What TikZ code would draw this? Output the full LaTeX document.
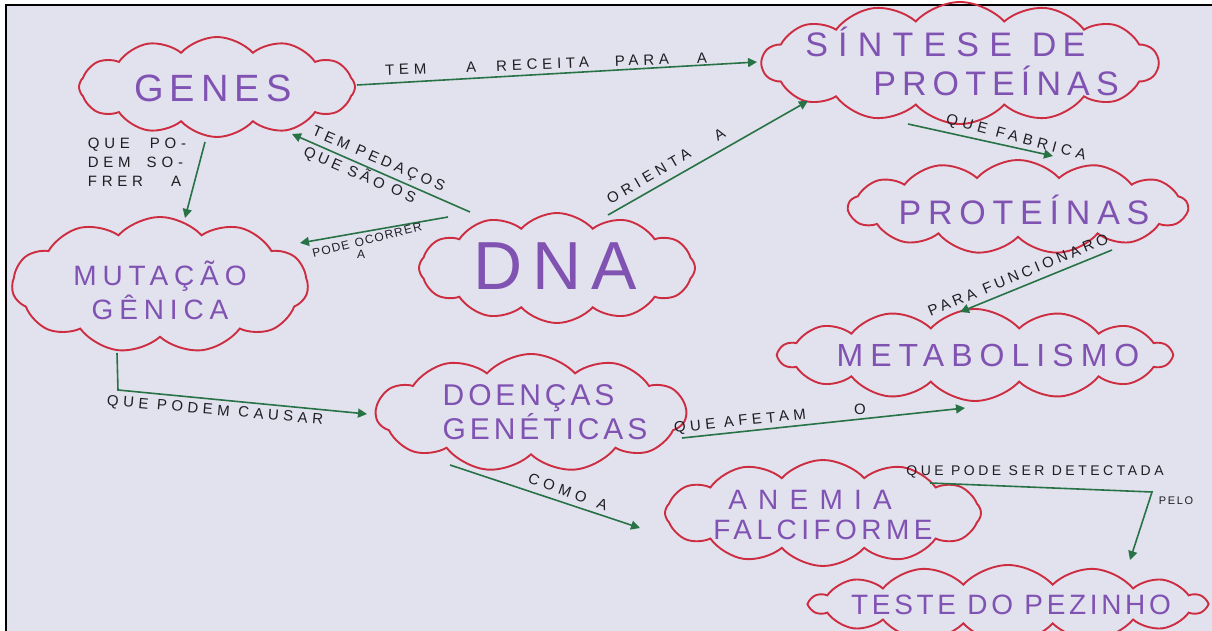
\documentclass[tikz,border=0pt]{standalone}
\usepackage{fontspec}
\usetikzlibrary{shapes.symbols,arrows.meta}
\newfontfamily\handfont{Liberation Sans}
\newcommand\cloudfont[3]{\handfont\fontsize{#1}{#2}\selectfont\addfontfeature{LetterSpace=#3}}
\definecolor{paper}{RGB}{226,225,238}
\definecolor{cloudred}{RGB}{205,45,65}
\definecolor{inkpurple}{RGB}{128,82,178}
\definecolor{inkgreen}{RGB}{40,115,70}
\definecolor{inkblack}{RGB}{30,30,35}
\tikzset{
  cloudnode/.style={cloud, draw=cloudred, line width=1.9pt, cloud puffs=#1, cloud puff arc=95,
    cloud ignores aspect, inner sep=0pt},
  cloudnode/.default=12,
  cloudtext/.style={text=inkpurple, align=center, inner sep=0pt, font=\cloudfont{30}{35}{18}},
  conn/.style={draw=inkgreen, line width=1.6pt, -{Triangle[length=9pt,width=9pt]}},
  lbl/.style={text=inkblack, font=\cloudfont{15}{19}{32}, inner sep=0pt, align=left}
}
\begin{document}
\begin{tikzpicture}[x=1pt,y=-1pt]
\useasboundingbox (0,0) rectangle (1212,631);
\fill[white] (0,0) rectangle (1212,631);
\fill[paper] (6,5) rectangle (1212,631);
\draw[black, line width=2pt] (6,631) -- (6,5) -- (1212,5);

% clouds
\node[cloudnode=12, minimum width=276pt, minimum height=100pt,
  label={[cloudtext, font=\cloudfont{38}{40}{16}, yshift=-1pt, xshift=-4pt]center:GENES}] (genes) at (217,87) {};
\node[cloudnode=14, minimum width=396pt, minimum height=122pt,
  label={[cloudtext, align=left, font=\cloudfont{34}{39}{18}, xshift=2pt, yshift=2pt]center:{{\addfontfeature{LetterSpace=30}SÍNTESE}\hspace{20pt}DE\\\hspace{68pt}PROTEÍNAS}}] (sintese) at (960,63) {};
\node[cloudnode=13, minimum width=339pt, minimum height=94pt,
  label={[cloudtext, font=\cloudfont{34}{36}{20}, xshift=6pt, yshift=-3pt]center:PROTEÍNAS}] (prot) at (1018,207) {};
\node[cloudnode=14, minimum width=392pt, minimum height=92pt,
  label={[cloudtext, font=\cloudfont{32}{36}{22}, xshift=13pt]center:METABOLISMO}] (metab) at (975,355) {};
\node[cloudnode=12, minimum width=276pt, minimum height=110pt,
  label={[cloudtext, font=\cloudfont{68}{70}{15}, yshift=2pt, xshift=-2pt]center:DNA}] (dna) at (557,268) {};
\node[cloudnode=11, minimum width=296pt, minimum height=136pt,
  label={[cloudtext, font=\cloudfont{28}{34}{21}, yshift=-5pt]center:{MUTAÇÃO\\GÊNICA}}] (mut) at (160,285) {};
\node[cloudnode=11, minimum width=310pt, minimum height=118pt,
  label={[cloudtext, align=left, font=\cloudfont{30}{31}{13}, xshift=14pt, yshift=1pt]center:{DOENÇAS\\GENÉTICAS}}] (doen) at (531,413) {};
\node[cloudnode=12, minimum width=316pt, minimum height=106pt,
  label={[cloudtext, font=\cloudfont{28}{30}{16}, yshift=-2pt]center:{{\addfontfeature{LetterSpace=40}ANEMIA}\hspace*{26pt}\\FALCIFORME}}] (anemia) at (823,513) {};
\node[cloudnode=14, minimum width=395pt, minimum height=78pt,
  label={[cloudtext, font=\cloudfont{28}{32}{13}, xshift=3pt, yshift=-1pt]center:TESTE DO PEZINHO}] (teste) at (1008,604) {};

% connectors
\draw[conn] ([xshift=140pt,yshift=2pt]genes.center) -- ([xshift=-203pt,yshift=1pt]sintese.center);
\draw[conn] ([xshift=-12pt,yshift=-55pt]genes.center) -- ([xshift=25pt,yshift=67pt]mut.center);
\draw[conn] ([xshift=-87pt,yshift=56pt]dna.center) -- ([xshift=75pt,yshift=-47pt]genes.center);
\draw[conn] ([xshift=-109pt,yshift=51pt]dna.center) -- ([xshift=140pt,yshift=42pt]mut.center);
\draw[conn] ([xshift=51pt,yshift=53pt]dna.center) -- ([xshift=-152pt,yshift=-38pt]sintese.center);
\draw[conn] ([xshift=-52pt,yshift=-61pt]sintese.center) -- ([xshift=35pt,yshift=51pt]prot.center);
\draw[conn] ([xshift=94pt,yshift=-43pt]prot.center) -- ([xshift=-15pt,yshift=43pt]metab.center);
\draw[conn] ([xshift=-43pt,yshift=-68pt]mut.center) -- ++(1,37) -- ([xshift=-164pt,yshift=-1pt]doen.center);
\draw[conn] ([xshift=151pt,yshift=-25pt]doen.center) -- ([xshift=-10pt,yshift=-53pt]metab.center);
\draw[conn] ([xshift=-81pt,yshift=-52pt]doen.center) -- ([xshift=-183pt,yshift=-15pt]anemia.center);
\draw[conn] ([xshift=107pt,yshift=30pt]anemia.center) -- ++(222,9) -- ([xshift=122pt,yshift=44pt]teste.center);

% labels
\node[lbl, rotate=2.2] (l1) at (546,64) {TEM\hspace{40pt}A\hspace{20pt}RECEITA\hspace{26pt}PARA\hspace{28pt}A};
\node[lbl] (l2) at (137,162) {QUE\hspace{20pt}PO-\\DEM\hspace{16pt}SO-\\FRER\hspace{28pt}A};
\node[lbl, rotate=-23.5, font=\cloudfont{15}{22}{25}] (l3) at (374,170) {TEM PEDAÇOS\\QUE SÃO OS};
\node[lbl, rotate=14, font=\cloudfont{12}{14}{10}] (l4) at (367,240) {PODE\hspace{6pt}OCORRER};
\node[lbl, font=\cloudfont{12}{14}{10}] (l4b) at (361,254) {A};
\node[lbl, rotate=30.5] (l5) at (666,166) {ORIENTA\hspace{30pt}A};
\node[lbl, rotate=-15] (l6) at (1016,138) {QUE FABRICA};
\node[lbl, rotate=22.5, font=\cloudfont{15}{19}{25}] (l7) at (1018,275) {PARA FUNCIONARO};
\node[lbl, rotate=-5, font=\cloudfont{15}{19}{30}] (l8) at (215,411) {QUE PODEM CAUSAR};
\node[lbl, rotate=6, font=\cloudfont{15}{19}{30}] (l9) at (740,422) {QUE AFETAM};
\node[lbl] (l9b) at (860,409) {O};
\node[lbl, rotate=-20] (l10) at (568,492) {COMO\hspace{12pt}A};
\node[lbl, font=\cloudfont{14}{16}{25}] (l11) at (1035,472) {QUE PODE SER DETECTADA};
\node[lbl, font=\cloudfont{11}{13}{15}] (l11b) at (1176,501) {PELO};
\end{tikzpicture}
\end{document}
